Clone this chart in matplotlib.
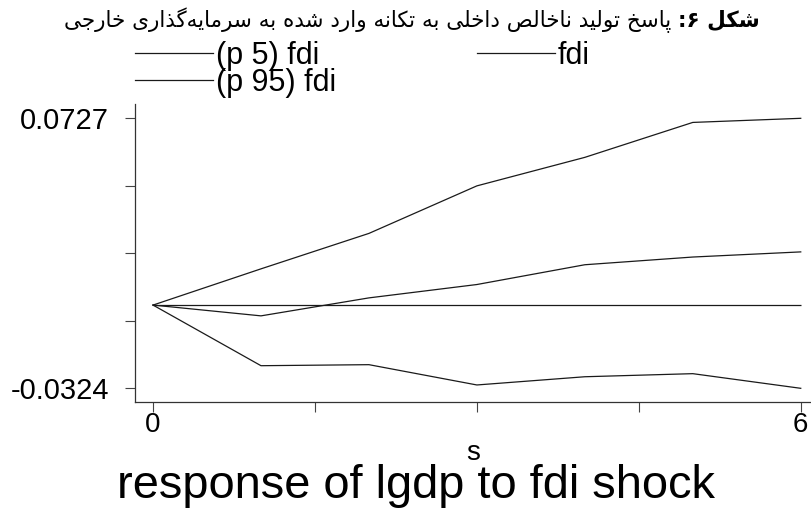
import numpy as np
import matplotlib
matplotlib.use("Agg")
import matplotlib.pyplot as plt

plt.rcParams['font.family'] = ['Liberation Sans', 'DejaVu Sans']

# impulse response of lgdp to an fdi shock, with 5/95 percentile bands
steps = [0, 1, 2, 3, 4, 5, 6]
irf_fdi = [0.0, -0.0042, 0.0028, 0.0080, 0.0157, 0.0187, 0.0207]
irf_p5 = [0.0, -0.0236, -0.0232, -0.0311, -0.0279, -0.0267, -0.0324]
irf_p95 = [0.0, 0.0141, 0.0279, 0.0464, 0.0575, 0.0711, 0.0727]

y_lo, y_hi = -0.0324, 0.0727
x_ticks = [0, 1.5, 3, 4.5, 6]
x_ticklabels = ['0', '', '', '', '6']
y_ticklabels = ['-0.0324', '', '', '', '0.0727']

title_bold = 'شکل ۶:'
title_rest = 'پاسخ تولید ناخالص داخلی به تکانه وارد شده به سرمایه‌گذاری خارجی'

# minimal arabic/persian shaping: contextual forms + visual (reversed) order
# (isolated, final, initial, medial)
FORMS = {
    'ا': (0xFE8D, 0xFE8E, 0xFE8D, 0xFE8E),
    'آ': (0xFE81, 0xFE82, 0xFE81, 0xFE82),
    'ب': (0xFE8F, 0xFE90, 0xFE91, 0xFE92),
    'پ': (0xFB56, 0xFB57, 0xFB58, 0xFB59),
    'ت': (0xFE95, 0xFE96, 0xFE97, 0xFE98),
    'ث': (0xFE99, 0xFE9A, 0xFE9B, 0xFE9C),
    'ج': (0xFE9D, 0xFE9E, 0xFE9F, 0xFEA0),
    'چ': (0xFB7A, 0xFB7B, 0xFB7C, 0xFB7D),
    'ح': (0xFEA1, 0xFEA2, 0xFEA3, 0xFEA4),
    'خ': (0xFEA5, 0xFEA6, 0xFEA7, 0xFEA8),
    'د': (0xFEA9, 0xFEAA, 0xFEA9, 0xFEAA),
    'ذ': (0xFEAB, 0xFEAC, 0xFEAB, 0xFEAC),
    'ر': (0xFEAD, 0xFEAE, 0xFEAD, 0xFEAE),
    'ز': (0xFEAF, 0xFEB0, 0xFEAF, 0xFEB0),
    'ژ': (0xFB8A, 0xFB8B, 0xFB8A, 0xFB8B),
    'س': (0xFEB1, 0xFEB2, 0xFEB3, 0xFEB4),
    'ش': (0xFEB5, 0xFEB6, 0xFEB7, 0xFEB8),
    'ص': (0xFEB9, 0xFEBA, 0xFEBB, 0xFEBC),
    'ض': (0xFEBD, 0xFEBE, 0xFEBF, 0xFEC0),
    'ط': (0xFEC1, 0xFEC2, 0xFEC3, 0xFEC4),
    'ظ': (0xFEC5, 0xFEC6, 0xFEC7, 0xFEC8),
    'ع': (0xFEC9, 0xFECA, 0xFECB, 0xFECC),
    'غ': (0xFECD, 0xFECE, 0xFECF, 0xFED0),
    'ف': (0xFED1, 0xFED2, 0xFED3, 0xFED4),
    'ق': (0xFED5, 0xFED6, 0xFED7, 0xFED8),
    'ک': (0xFB8E, 0xFB8F, 0xFB90, 0xFB91),
    'گ': (0xFB92, 0xFB93, 0xFB94, 0xFB95),
    'ل': (0xFEDD, 0xFEDE, 0xFEDF, 0xFEE0),
    'م': (0xFEE1, 0xFEE2, 0xFEE3, 0xFEE4),
    'ن': (0xFEE5, 0xFEE6, 0xFEE7, 0xFEE8),
    'و': (0xFEED, 0xFEEE, 0xFEED, 0xFEEE),
    'ه': (0xFEE9, 0xFEEA, 0xFEEB, 0xFEEC),
    'ی': (0xFBFC, 0xFBFD, 0xFBFE, 0xFBFF),
}
RIGHT_ONLY = set('اآدذرزژو')


def shape(text):
    out = []
    for i, c in enumerate(text):
        if c not in FORMS:
            if c != '\u200c':
                out.append(c)
            continue
        prev = text[i - 1] if i > 0 else ''
        nxt = text[i + 1] if i + 1 < len(text) else ''
        j_prev = prev in FORMS and prev not in RIGHT_ONLY
        j_next = nxt in FORMS and c not in RIGHT_ONLY
        iso, fin, ini, med = FORMS[c]
        if j_prev and j_next:
            out.append(chr(med))
        elif j_prev:
            out.append(chr(fin))
        elif j_next:
            out.append(chr(ini))
        else:
            out.append(chr(iso))
    return ''.join(out)[::-1]


fig = plt.figure(figsize=(8.11, 5.08), dpi=100)
fig.patch.set_facecolor('white')
ax = fig.add_axes([135 / 811, 106 / 508, 676 / 811, 298 / 508])

ln_p5, = ax.plot(steps, irf_p5, color='#1a1a1a', lw=0.9)
ln_p95, = ax.plot(steps, irf_p95, color='#1a1a1a', lw=0.9)
ln_fdi, = ax.plot(steps, irf_fdi, color='#1a1a1a', lw=0.9)
ax.hlines(0, steps[0], steps[-1], color='#1a1a1a', lw=0.9)

ax.set_xlim(-0.167, 6.095)
ax.set_ylim(-0.03773, 0.07827)
ax.set_xticks(x_ticks)
ax.set_xticklabels(x_ticklabels, fontsize=20)
ax.set_yticks(np.linspace(y_lo, y_hi, 5))
ax.set_yticklabels(y_ticklabels, fontsize=21)
ax.tick_params(axis='both', direction='out', length=7.5, width=0.8, color='#444444')
ax.tick_params(axis='y', pad=11)
ax.tick_params(axis='x', pad=0)

for side in ['top', 'right']:
    ax.spines[side].set_visible(False)
for side in ['left', 'bottom']:
    ax.spines[side].set_color('#333333')
    ax.spines[side].set_linewidth(0.9)

ax.set_xlabel('s', fontsize=20, labelpad=1)

ax.legend([ln_p5, ln_p95, ln_fdi], ['(p 5) fdi', '(p 95) fdi', 'fdi'],
          ncol=2, frameon=False, fontsize=22, handlelength=2.55,
          handletextpad=0.1, columnspacing=4.6, labelspacing=-0.1,
          borderpad=0, borderaxespad=0, loc='upper left',
          bbox_to_anchor=(135 / 811, 1 - 41 / 508),
          bbox_transform=fig.transFigure)

# persian title: bold label on the right, the rest to its left
t_bold = fig.text(760 / 811, 1 - 20 / 508, shape(title_bold), fontsize=15.5,
                  fontweight='bold', family=['DejaVu Sans'],
                  ha='right', va='center')
ax.annotate(shape(title_rest), xy=(0, 0.5), xycoords=t_bold,
            xytext=(-5, 0), textcoords='offset points',
            fontsize=15.5, family=['DejaVu Sans'], ha='right', va='center',
            annotation_clip=False)

fig.text(416 / 811, 10 / 508, 'response of lgdp to fdi shock',
         fontsize=33.8, ha='center', va='baseline')

fig.savefig('out.png', dpi=100)
